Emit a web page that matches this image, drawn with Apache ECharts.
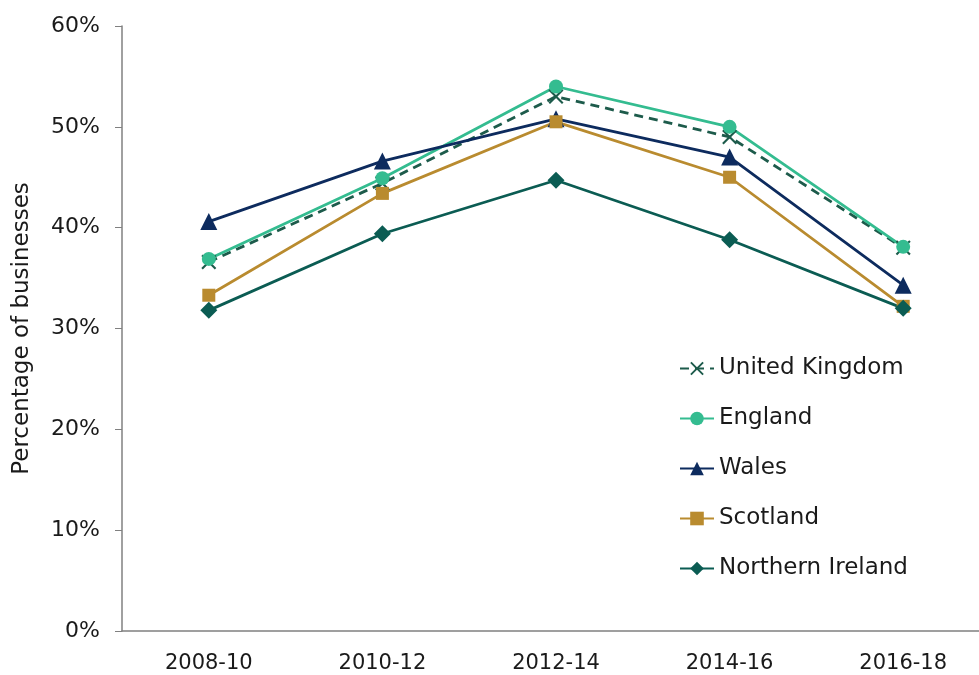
<!DOCTYPE html>
<html>
<head>
<meta charset="utf-8">
<script src="https://cdn.jsdelivr.net/npm/echarts@6/dist/echarts.min.js"></script>
<style>
  html, body { margin: 0; padding: 0; background: #fff; }
  #chart { width: 979px; height: 675px; }
</style>
</head>
<body>
<div id="chart"></div>
<script>
const periods = ['2008-10', '2010-12', '2012-14', '2014-16', '2016-18']
const unitedKingdom = [36.6, 44.4, 53.0, 49.0, 38.0]
const england = [36.9, 44.9, 54.0, 50.0, 38.1]
const wales = [40.6, 46.6, 50.8, 47.0, 34.3]
const scotland = [33.3, 43.4, 50.5, 45.0, 32.2]
const northernIreland = [31.8, 39.4, 44.7, 38.8, 32.0]
const yTicks = [0, 10, 20, 30, 40, 50, 60]

const FONT = 'DejaVu Sans'
const crossPath = 'path://M0,1 L1,0 L5,4 L9,0 L10,1 L6,5 L10,9 L9,10 L5,6 L1,10 L0,9 L4,5 Z'

function line(name, data, color, symbol, size, dashed) {
  return {
    name: name,
    type: 'line',
    data: data,
    symbol: symbol,
    symbolSize: size,
    lineStyle: { color: color, width: 2.8, type: dashed ? [9, 6] : 'solid' },
    itemStyle: { color: color },
    emphasis: { disabled: true }
  }
}

const chart = echarts.init(document.getElementById('chart'))
chart.setOption({
  animation: false,
  grid: { left: 122, top: 26, bottom: 44, right: -11, outerBoundsMode: 'none' },
  legend: {
    orient: 'vertical',
    left: 674,
    top: 352,
    itemWidth: 34,
    itemHeight: 17,
    itemGap: 27,
    textStyle: { fontFamily: FONT, fontSize: 23, color: '#1a1a1a' },
    data: ['United Kingdom', 'England', 'Wales', 'Scotland', 'Northern Ireland']
  },
  xAxis: {
    type: 'category',
    data: periods,
    axisLine: { lineStyle: { color: '#808080', width: 1.5 } },
    axisTick: { alignWithLabel: true, length: 7, lineStyle: { color: '#808080' } },
    axisLabel: { margin: 22, fontFamily: FONT, fontSize: 21, color: '#1a1a1a' }
  },
  yAxis: {
    type: 'value',
    min: 0,
    max: 60,
    interval: 10,
    name: 'Percentage of businesses',
    nameLocation: 'middle',
    nameRotate: 90,
    nameGap: 88,
    nameTextStyle: { fontFamily: FONT, fontSize: 23, color: '#1a1a1a' },
    axisLine: { show: true, lineStyle: { color: '#808080', width: 1.5 } },
    axisTick: { show: true, length: 7, lineStyle: { color: '#808080' } },
    splitLine: { show: false },
    axisLabel: {
      margin: 22,
      fontFamily: FONT,
      fontSize: 22,
      color: '#1a1a1a',
      formatter: v => (yTicks.indexOf(v) >= 0 ? v + '%' : '')
    }
  },
  series: [
    line('United Kingdom', unitedKingdom, '#1d5b4b', crossPath, 15, true),
    line('England', england, '#34bc90', 'circle', 14, false),
    line('Wales', wales, '#0d2b5e', 'triangle', 17, false),
    line('Scotland', scotland, '#b98b2f', 'rect', 13, false),
    line('Northern Ireland', northernIreland, '#0b5c53', 'diamond', 17, false)
  ]
})
</script>
</body>
</html>
